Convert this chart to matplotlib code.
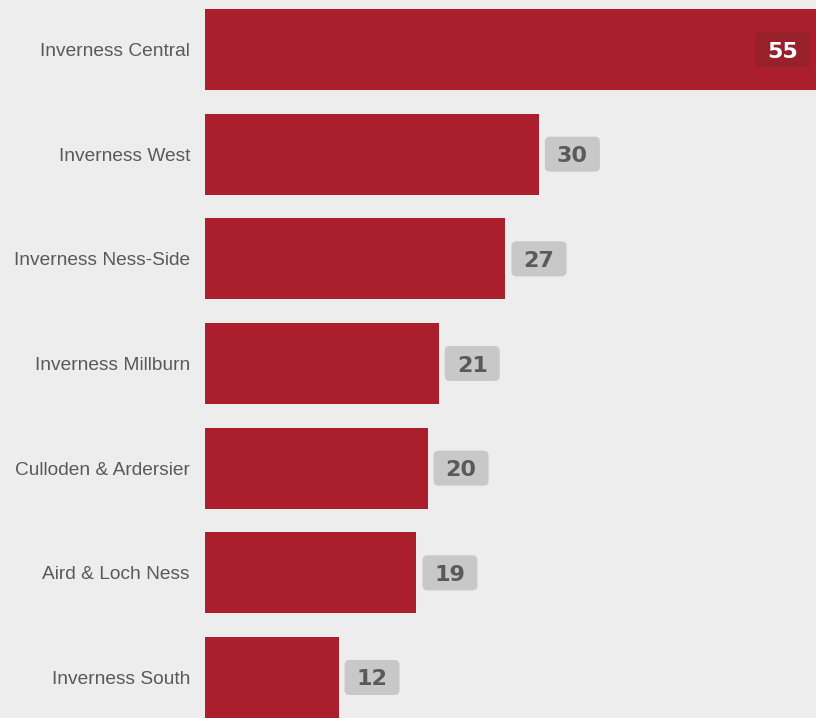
import matplotlib
matplotlib.use("Agg")
import matplotlib.pyplot as plt
from matplotlib.patches import FancyBboxPatch
from matplotlib.transforms import IdentityTransform

categories = ["Inverness Central", "Inverness West", "Inverness Ness-Side",
              "Inverness Millburn", "Culloden & Ardersier", "Aird & Loch Ness",
              "Inverness South"]
values = [55, 30, 27, 21, 20, 19, 12]

BG = "#ededed"
BAR = "#ab1f2d"

fig = plt.figure(figsize=(8.16, 7.18), dpi=100, facecolor=BG)
ax = fig.add_axes([205 / 816, 0, 611 / 816, 1])
ax.set_facecolor(BG)
ypos = list(range(len(categories)))
ax.barh(ypos, values, height=0.775, color=BAR, zorder=2)
ax.set_xlim(0, 54.9)
ax.set_ylim(6.387, -0.473)
for s in ax.spines.values():
    s.set_visible(False)
ax.set_xticks([])
ax.set_yticks(ypos)
ax.set_yticklabels(categories, family="Liberation Sans", fontsize=13.8, color="#595959")
ax.tick_params(axis="y", length=0, pad=10.8)

vmax = max(values)
bw, bh = 55, 35
for i, v in enumerate(values):
    px, py = ax.transData.transform((v, i))
    px = min(px, 816)
    if v == vmax:
        x0 = px - 6 - bw
        fc, tc = "#98202a", "white"
    else:
        x0 = px + 6
        fc, tc = "#c8c8c8", "#5a5a5a"
    patch = FancyBboxPatch((x0, py - bh / 2), bw, bh,
                           boxstyle="round,pad=0,rounding_size=5",
                           fc=fc, ec="none", transform=IdentityTransform(),
                           zorder=3, clip_on=False)
    fig.add_artist(patch)
    fig.text(x0 + bw / 2, py, str(v), transform=IdentityTransform(),
             ha="center", va="center_baseline", family="DejaVu Sans",
             fontweight="bold", fontsize=16, color=tc, zorder=4)

fig.savefig("out.png", dpi=100, facecolor=BG)
